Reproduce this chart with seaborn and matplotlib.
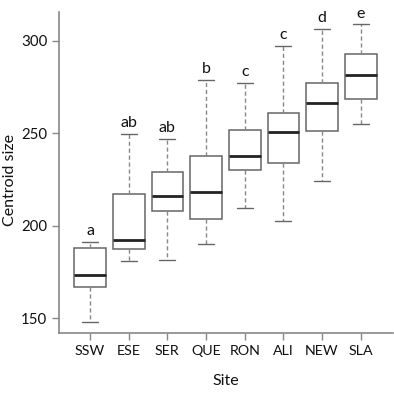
import numpy as np
import pandas as pd
import seaborn as sns
import matplotlib
matplotlib.use("Agg")
import matplotlib.pyplot as plt

sites = ["SSW", "ESE", "SER", "QUE", "RON", "ALI", "NEW", "SLA"]
lower = [148, 181, 181.6, 190, 209.7, 202.7, 224, 255]
q1 = [167, 187.6, 208, 203.8, 230, 234, 251, 268.6]
median = [173.5, 192.4, 216, 218.4, 238, 250.8, 266.5, 281.6]
q3 = [188, 217, 229, 238, 252, 261, 277, 293]
upper = [191.4, 249.7, 247, 279, 277.3, 297.3, 306.5, 309]
letters = ["a", "ab", "ab", "b", "c", "c", "d", "e"]

rows = []
for s, a, b, c, d, e in zip(sites, lower, q1, median, q3, upper):
    for v in (a, b, c, d, e):
        rows.append({"Site": s, "Centroid size": v})
df = pd.DataFrame(rows)

sns.set_style("ticks")
plt.rcParams['font.family'] = ['Lato', 'DejaVu Sans']

fig = plt.figure(figsize=(3.94, 3.95), dpi=100)
ax = fig.add_axes([0.15, 0.157, 0.847, 0.813])

edge = "#666666"
sns.boxplot(data=df, x="Site", y="Centroid size", order=sites, ax=ax,
            color="white", width=0.82, whis=(0, 100), linewidth=1.1,
            linecolor=edge,
            boxprops=dict(facecolor="white", edgecolor=edge),
            medianprops=dict(color="#222222", linewidth=2),
            whiskerprops=dict(color="#888888", linestyle=(0, (3, 2)), linewidth=1),
            capprops=dict(color="#666666", linewidth=1),
            capwidths=0.41)

for i, (u, t) in enumerate(zip(upper, letters)):
    ax.text(i, u + 2, t, ha="center", va="bottom", fontsize=11.5, color="#111111")

ax.set_xlim(-0.8, 7.83)
ax.set_ylim(142, 315.7)
ax.set_yticks([150, 200, 250, 300])
ax.set_xlabel("Site", fontsize=11.5, labelpad=12, color="#111111")
ax.set_ylabel("Centroid size", fontsize=11.5, color="#111111")
ax.yaxis.set_label_coords(-0.125, 0.477)
ax.tick_params(axis="y", labelsize=10.8)
ax.tick_params(axis="x", labelsize=10.3, pad=4)
ax.tick_params(axis="both", color="#888888", labelcolor="#111111", length=5, width=1)
for sp in ["top", "right"]:
    ax.spines[sp].set_visible(False)
for sp in ["left", "bottom"]:
    ax.spines[sp].set_color("#888888")
    ax.spines[sp].set_linewidth(1.2)

fig.savefig("out.png", dpi=100)
